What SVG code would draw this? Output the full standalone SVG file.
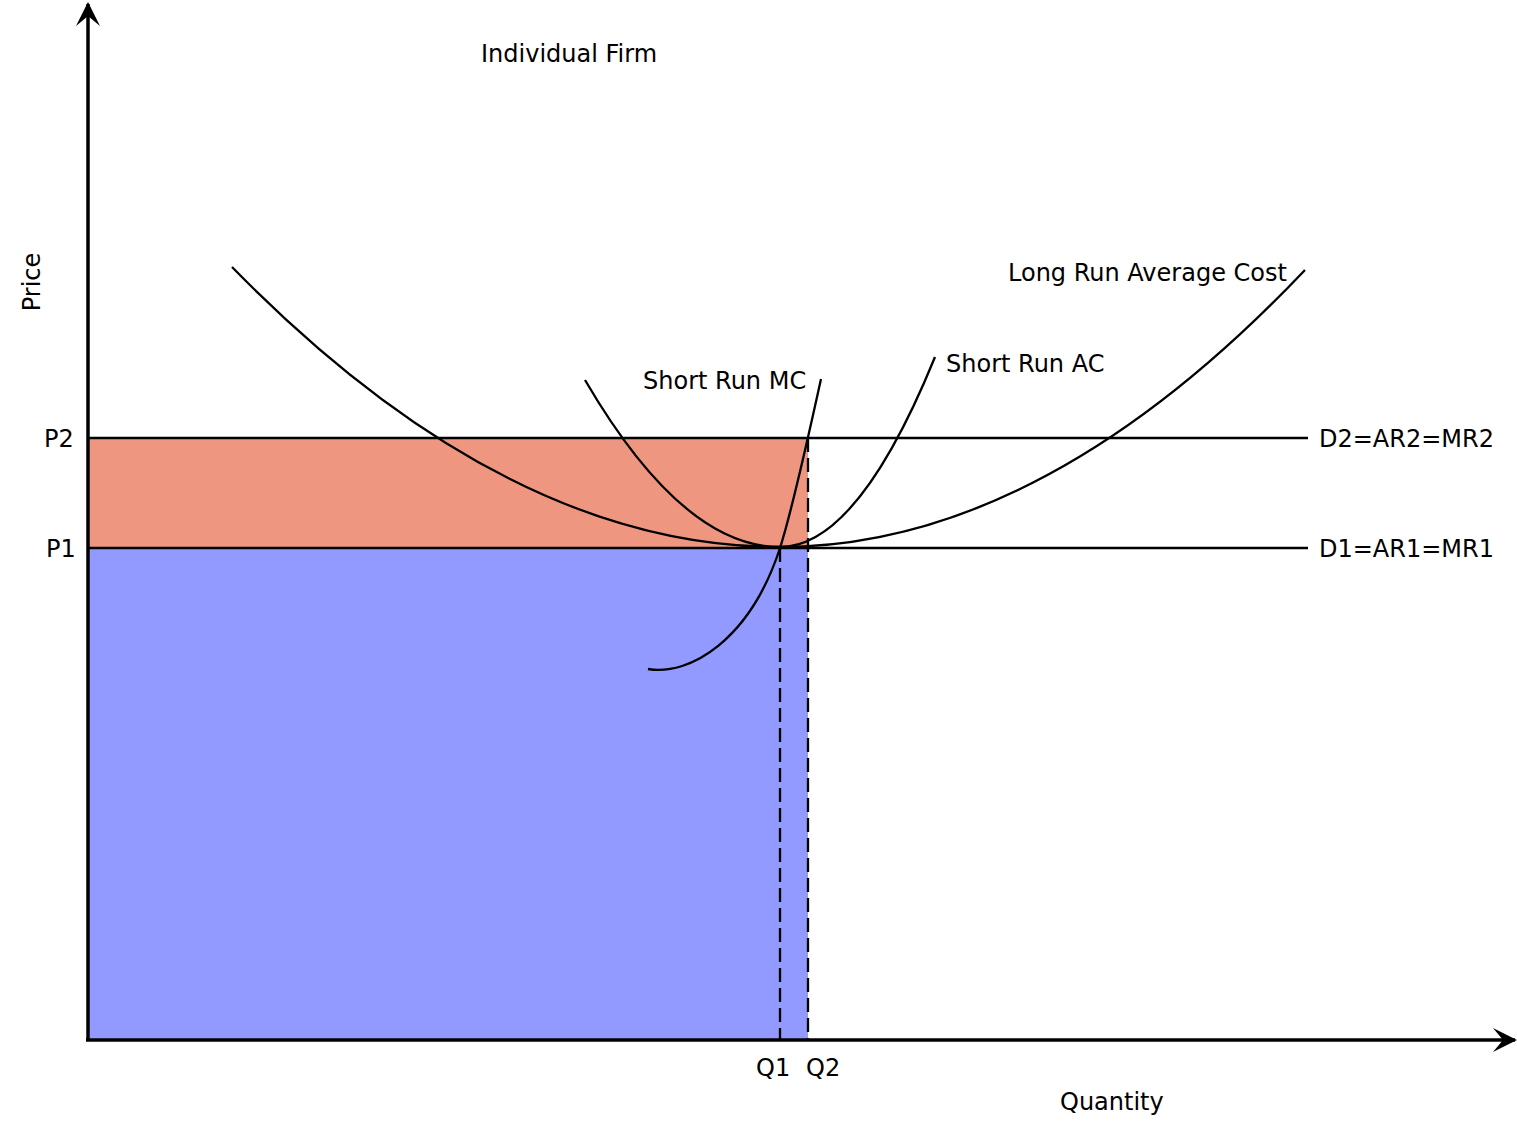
<svg xmlns="http://www.w3.org/2000/svg" width="1517" height="1128" viewBox="0 0 1517 1128">
<style>
text{font-family:"DejaVu Sans","Liberation Sans",sans-serif;font-size:24px;fill:#000}
.curve{fill:none;stroke:#000;stroke-width:2.3}
.hline{fill:none;stroke:#000;stroke-width:2.3}
.dash{fill:none;stroke:#000;stroke-width:2.3;stroke-dasharray:14 6}
.axis{fill:none;stroke:#000;stroke-width:3.5}
</style>
<defs>
<marker id="arr" viewBox="0 0 24 26" refX="22" refY="13" markerWidth="24" markerHeight="26" markerUnits="userSpaceOnUse" orient="auto">
<path d="M0,1 L24,13 L0,25 L10,13 Z" fill="#000"/>
</marker>
</defs>
<rect width="1517" height="1128" fill="#fff"/>
<g id="areas">
<rect id="profit" x="88" y="438" width="720" height="110" fill="#EE967F"/>
<rect id="revenue" x="88" y="548" width="720" height="492" fill="#9299FF"/>
</g>
<g id="connectors">
<line class="hline" x1="88" y1="438" x2="1308" y2="438"/>
<line class="hline" x1="88" y1="548" x2="1308" y2="548"/>
<line class="dash" x1="780" y1="548" x2="780" y2="1040"/>
<line class="dash" x1="808" y1="438" x2="808" y2="1040"/>
<path id="lrac" class="curve" d="M232,267 Q506,547 780,547 Q1042.5,547 1305,270"/>
<path id="srac" class="curve" d="M585,380 Q682.5,547 780,547 Q857.5,547 935,357"/>
<path id="srmc" class="curve" d="M648,669 C690,676 750,640 780,548 C790,517 812,420 821,379"/>
<line class="axis" x1="88" y1="1040" x2="88" y2="4" marker-end="url(#arr)"/>
<line class="axis" x1="86" y1="1040" x2="1515" y2="1040" marker-end="url(#arr)"/>
</g>
<g id="labels">
<text x="481" y="62">Individual Firm</text>
<text transform="translate(40,282) rotate(-90)" text-anchor="middle">Price</text>
<text x="44" y="447">P2</text>
<text x="46" y="557">P1</text>
<text x="643" y="389">Short Run MC</text>
<text x="946" y="372">Short Run AC</text>
<text x="1008" y="281">Long Run Average Cost</text>
<text x="1319" y="447">D2=AR2=MR2</text>
<text x="1319" y="557">D1=AR1=MR1</text>
<text x="756" y="1076">Q1</text>
<text x="806" y="1076">Q2</text>
<text x="1060" y="1110">Quantity</text>
</g>
</svg>
